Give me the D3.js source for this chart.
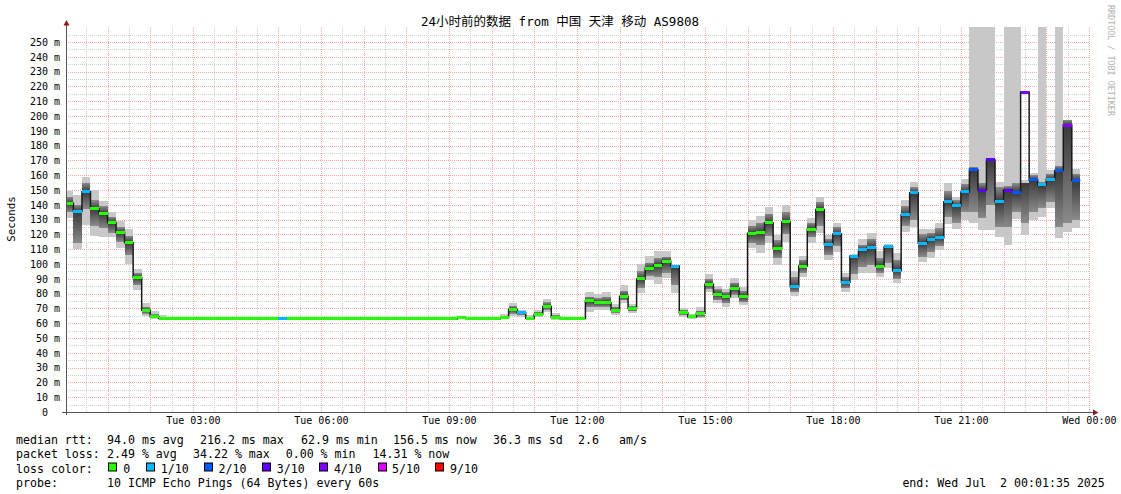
<!DOCTYPE html>
<html><head><meta charset="utf-8">
<script src="https://cdn.jsdelivr.net/npm/d3@7"></script>
<style>
body{margin:0;background:#fff;}
svg{display:block;}
text{font-family:"DejaVu Sans Mono","Noto Sans CJK SC",monospace;fill:#000;}
</style></head><body><svg id="c" width="1121" height="494"></svg>
<script>
// ---- data: 12-minute steps starting Tue 00:00, k = 0..118 ----
const median = [
141.0,135.4,148.9,137.4,134.2,127.9,121.2,114.4,90.8,68.7,
64.4,63.2,63.0,63.0,63.0,63.0,63.0,63.0,63.0,63.0,
63.0,63.0,63.0,63.0,63.0,63.2,63.0,63.0,63.0,63.0,
63.0,63.0,63.0,63.0,63.0,63.0,63.0,63.0,63.0,63.0,
63.0,63.0,63.0,63.0,62.9,62.9,63.6,63.0,62.9,63.0,
62.9,63.6,69.4,67.1,63.4,66.0,71.2,64.0,63.2,63.2,
63.2,75.2,73.9,73.9,68.9,78.2,69.9,89.9,97.1,99.3,
102.0,98.6,67.1,64.2,66.7,86.3,79.5,77.9,83.6,77.9,
120.7,121.2,127.9,110.6,128.4,84.7,98.6,123.4,136.9,113.3,
120.3,87.6,105.4,109.5,111.0,98.6,111.7,95.5,133.3,148.2,
114.0,116.8,117.8,142.1,139.2,148.7,163.7,150.0,170.3,142.1,
150.0,148.4,216.2,156.8,153.4,157.2,163.1,193.9,156.5
];
// lost pings out of 10 per step
const loss = [
0,1,1,0,0,0,0,0,0,0,
0,0,0,0,0,0,0,0,0,0,
0,0,0,0,0,1,0,0,0,0,
0,0,0,0,0,0,0,0,0,0,
0,0,0,0,0,0,0,0,0,0,
0,0,0,1,0,0,0,0,0,0,
0,0,0,0,0,0,0,0,0,0,
0,1,0,0,0,0,0,0,0,0,
0,0,0,0,0,1,0,0,0,1,
1,1,1,1,1,0,1,1,1,1,
1,1,1,1,1,1,2,3,3,1,
3,2,4,2,1,1,2,4,2
];
// smoke: fastest and slowest ping per step
const smokeLo = [
130.9,110.1,126.4,119.1,118.5,118.5,110.6,99.8,82.4,65.1,
62.8,62.0,62.6,62.6,62.6,62.6,62.6,62.6,62.6,62.6,
62.6,62.6,62.6,62.6,62.6,62.6,62.6,62.6,62.6,62.6,
62.6,62.6,62.6,62.6,62.6,62.6,62.6,62.6,62.6,62.6,
62.6,62.6,62.6,62.6,62.4,62.4,62.6,62.5,62.4,62.5,
62.3,62.6,64.9,64.4,62.2,64.0,67.8,62.2,62.6,62.6,
62.6,67.8,68.9,68.9,65.5,73.4,66.7,80.2,89.2,86.5,
90.3,80.2,64.4,62.6,63.3,81.3,73.4,71.2,76.8,72.3,
110.6,107.2,114.5,99.5,115.1,78.4,91.4,114.0,121.2,102.7,
108.3,81.3,89.2,93.7,93.7,91.4,97.1,87.0,121.8,125.0,
101.6,104.0,109.5,127.0,123.6,129.7,127.5,123.0,123.0,118.5,
112.8,130.2,119.6,129.7,132.0,137.6,117.3,121.8,124.1
];
const smokeHi = [
149.3,146.6,158.8,150.0,142.6,134.9,129.1,123.6,96.6,73.9,
68.5,65.5,63.8,63.8,63.8,63.8,63.8,63.8,63.8,63.8,
63.8,63.8,63.8,63.8,63.8,64.2,63.8,63.8,63.8,63.8,
63.8,63.8,63.8,63.8,63.8,63.8,63.8,63.8,63.8,63.8,
63.8,63.8,63.8,63.8,63.6,63.6,64.8,63.8,63.6,63.8,
63.6,66.2,73.9,68.9,65.5,68.9,76.4,66.7,63.8,63.8,
63.8,80.9,79.5,81.1,72.7,85.8,72.7,100.0,105.4,109.0,
109.0,98.6,70.5,66.2,70.7,93.0,85.1,82.9,90.3,84.7,
129.7,132.4,138.7,119.8,139.9,95.5,105.4,131.3,145.5,119.6,
127.9,93.7,106.8,116.7,121.2,108.8,113.5,107.2,143.2,155.4,
123.5,123.5,127.5,154.5,145.5,157.3,300,300,300,155.6,
300,300,157.0,161.7,300,163.3,300,197.3,164.2
];
// inner (darker) part of the smoke
const coreLo = [
135,114,137,126,124,121,115,106,86,66.5,
63.5,62.5,62.8,62.8,62.8,62.8,62.8,62.8,62.8,62.8,
62.8,62.8,62.8,62.8,62.8,62.8,62.8,62.8,62.8,62.8,
62.8,62.8,62.8,62.8,62.8,62.8,62.8,62.8,62.8,62.8,
62.8,62.8,62.8,62.8,62.6,62.6,63.0,62.8,62.6,62.8,
62.6,63.0,66.5,65.5,62.6,64.8,69,63,62.8,62.8,
62.8,71,71,71,67,75.5,68,84,92,91,
94,86,65.5,63.2,64.5,83,75.5,73.5,79,74,
114,113,119,104,120,81,94,118,126,106,
112,83.5,93,98,99,94,101,90,126,130,
105,108,112,132,128,135,135,131,140,125,
125,135,128,135,138,142,125,128,130
];
const coreHi = [
145.5,140,155,143,139,132,125,119,94,71,
66,64.2,63.4,63.4,63.4,63.4,63.4,63.4,63.4,63.4,
63.4,63.4,63.4,63.4,63.4,63.6,63.4,63.4,63.4,63.4,
63.4,63.4,63.4,63.4,63.4,63.4,63.4,63.4,63.4,63.4,
63.4,63.4,63.4,63.4,63.2,63.2,64.2,63.4,63.2,63.4,
63.2,64.8,71.5,68,64.3,67.5,74,65.3,63.4,63.4,
63.4,78,77,78,71,82,71.5,95,101,104,
105,98.6,69,65.2,68.5,90,83,81,87.5,82,
126,128,134,116,135,91,103,128,142,117,
125,91.5,105.5,113,117,104,112.5,103,139,152,
120,121,124,149,143,154,165.5,154.5,170.9,152,
152.5,154.5,155,160,155.2,161,166.2,197.3,161
];
const yTicks = [0,10,20,30,40,50,60,70,80,90,100,110,120,130,140,150,160,170,180,190,200,210,220,230,240,250];
const lossLegend = ["0","1/10","2/10","3/10","4/10","5/10","9/10"];
const lossColors = {0:"#26ff00",1:"#00b8ff",2:"#0059ff",3:"#5e00ff",4:"#7e00ff",5:"#dd00ff",9:"#ff0000"};
const lossKeys = [0,1,2,3,4,5,9];
const titleText = "24小时前的数据 from 中国 天津 移动 AS9808";

// ---- scales ----
const tStart = new Date(Date.UTC(2025,6,1,0,1,35));
const tEnd = new Date(Date.UTC(2025,6,2,0,1,35));
const day0 = Date.UTC(2025,6,1,0,0,0);
const STEP = 12*60*1000;
const x = d3.scaleUtc().domain([tStart,tEnd]).range([66,1090]);
const y = d3.scaleLinear().domain([0,260]).range([412,27.2]);
const stepStart = k => new Date(day0 + k*STEP);
const stepEnd = k => new Date(day0 + (k+1)*STEP);

const svg = d3.select("#c");
const defs = svg.append("defs");
defs.append("clipPath").attr("id","plot")
  .append("rect").attr("x",66).attr("y",27).attr("width",1024).attr("height",385);

// ---- grid ----
const grid = svg.append("g");
const hMinor = d3.range(5,256,10), hMajor = d3.range(10,251,10);
const minorCol = "#cfcfcf", majorCol = "#f5aaaa";
grid.selectAll(".hm").data(hMinor).join("line")
  .attr("x1",66).attr("x2",1090)
  .attr("y1",d=>Math.round(y(d))+0.5).attr("y2",d=>Math.round(y(d))+0.5)
  .attr("stroke",minorCol).attr("stroke-dasharray","1,1");
const vTimes = x.ticks(d3.utcMinute.every(30));
grid.selectAll(".vm").data(vTimes.filter(d=>d.getUTCMinutes()!==0)).join("line")
  .attr("x1",d=>Math.round(x(d))+0.5).attr("x2",d=>Math.round(x(d))+0.5)
  .attr("y1",27).attr("y2",412)
  .attr("stroke",minorCol).attr("stroke-dasharray","1,1");
grid.selectAll(".hM").data(hMajor).join("line")
  .attr("x1",66).attr("x2",1090)
  .attr("y1",d=>Math.round(y(d))+0.5).attr("y2",d=>Math.round(y(d))+0.5)
  .attr("stroke",majorCol).attr("stroke-dasharray","1,1");
grid.selectAll(".vM").data(vTimes.filter(d=>d.getUTCMinutes()===0)).join("line")
  .attr("x1",d=>Math.round(x(d))+0.5).attr("x2",d=>Math.round(x(d))+0.5)
  .attr("y1",27).attr("y2",412)
  .attr("stroke",majorCol).attr("stroke-dasharray","1,1");

// ---- smoke ----
const idx = d3.range(median.length);
// per-step shading: darkest at the median, lighter toward the inner band edges
idx.forEach(k=>{
  const top = y(coreHi[k]), bot = y(coreLo[k]);
  const span = Math.max(bot-top, 0.01);
  const off = Math.min(1, Math.max(0, (y(median[k])-top)/span));
  const g = defs.append("linearGradient").attr("id","sg"+k)
    .attr("gradientUnits","userSpaceOnUse").attr("x1",0).attr("x2",0).attr("y1",top).attr("y2",bot);
  g.append("stop").attr("offset",0).attr("stop-color","#8a8a8a");
  g.append("stop").attr("offset",off).attr("stop-color","#3a3a3a");
  g.append("stop").attr("offset",1).attr("stop-color","#8a8a8a");
});
const plot = svg.append("g").attr("clip-path","url(#plot)");
plot.selectAll(".so").data(idx).join("rect")
  .attr("x",k=>x(stepStart(k))).attr("width",k=>x(stepEnd(k))-x(stepStart(k)))
  .attr("y",k=>y(smokeHi[k])).attr("height",k=>y(smokeLo[k])-y(smokeHi[k]))
  .attr("fill","#c8c8c8").attr("shape-rendering","crispEdges");
plot.selectAll(".si").data(idx).join("rect")
  .attr("x",k=>x(stepStart(k))).attr("width",k=>x(stepEnd(k))-x(stepStart(k)))
  .attr("y",k=>y(coreHi[k])).attr("height",k=>y(coreLo[k])-y(coreHi[k]))
  .attr("fill",k=>"url(#sg"+k+")").attr("shape-rendering","crispEdges");

// ---- median line ----
const pts = idx.map(k=>[x(stepStart(k)),y(median[k])]);
pts.push([x(stepEnd(median.length-1)),y(median[median.length-1])]);
plot.append("path").attr("d",d3.line().curve(d3.curveStepAfter)(pts))
  .attr("fill","none").attr("stroke","#1a1a1a").attr("stroke-width",1.5);
plot.selectAll(".md").data(idx).join("rect")
  .attr("x",k=>x(stepStart(k))).attr("width",k=>x(stepEnd(k))-x(stepStart(k)))
  .attr("y",k=>y(median[k])-1.5).attr("height",3)
  .attr("fill",k=>lossColors[loss[k]]).attr("shape-rendering","crispEdges");

// ---- axes ----
const yAxis = d3.axisLeft(y).tickValues(yTicks).tickSize(0).tickPadding(6)
  .tickFormat(d=>d===0?"0":d+" m");
const gy = svg.append("g").attr("transform","translate(66,0)").call(yAxis);
gy.select(".domain").remove();
gy.selectAll("text").attr("font-family","DejaVu Sans Mono").attr("font-size",10).attr("fill","#000");
gy.selectAll(".tick").filter(d=>d===0).select("text").attr("x",-18);

const xAxis = d3.axisBottom(x).tickValues(d3.range(1,9).map(i=>new Date(day0+i*3*3600*1000)))
  .tickSize(0).tickPadding(5).tickFormat(d3.utcFormat("%a %H:%M"));
const gx = svg.append("g").attr("transform","translate(0,412)").call(xAxis);
gx.select(".domain").remove();
gx.selectAll("text").attr("font-family","DejaVu Sans Mono").attr("font-size",10).attr("fill","#000");

// axis lines + arrows
svg.append("line").attr("x1",66.5).attr("x2",66.5).attr("y1",415).attr("y2",24).attr("stroke","#555");
svg.append("line").attr("x1",62).attr("x2",1094).attr("y1",412.5).attr("y2",412.5).attr("stroke","#555");
svg.append("path").attr("d","M63.5,25.5 L66.5,20 L69.5,25.5 Z").attr("fill","#8b1a1a");
svg.append("path").attr("d","M1093,409.5 L1098.5,412.5 L1093,415.5 Z").attr("fill","#8b1a1a");

// ---- texts ----
svg.append("text").attr("x",560).attr("y",25.5).attr("text-anchor","middle")
  .attr("font-size",12.5).text(titleText);
svg.append("text").attr("transform","translate(14.5,219) rotate(-90)").attr("text-anchor","middle")
  .attr("font-size",10.8).text("Seconds");
svg.append("text").attr("transform","translate(1108,5) rotate(90)")
  .attr("font-size",8.4).style("fill","#b0b0b0").text("RRDTOOL / TOBI OETIKER");

const legend = svg.append("g").attr("font-size",11.6);
const L1 = 443.5, L2 = 458, L3 = 472.5, L4 = 487;
const segs = [
  [16,L1,"median rtt:"],[107,L1,"94.0 ms avg"],[200,L1,"216.2 ms max"],[301,L1,"62.9 ms min"],
  [393,L1,"156.5 ms now"],[493,L1,"36.3 ms sd"],[578,L1,"2.6"],[619,L1,"am/s"],
  [16,L2,"packet loss:"],[107,L2,"2.49 % avg"],[193,L2,"34.22 % max"],[285.7,L2,"0.00 % min"],[372.5,L2,"14.31 % now"],
  [16,L3,"loss color:"],
  [16,L4,"probe:"],[107,L4,"10 ICMP Echo Pings (64 Bytes) every 60s"],
  [902.4,L4,"end: Wed Jul  2 00:01:35 2025"]
];
legend.selectAll("text").data(segs).join("text")
  .attr("x",d=>d[0]).attr("y",d=>d[1]).attr("xml:space","preserve").style("white-space","pre").text(d=>d[2]);
const boxX = [108.2,145.7,203.6,261.8,318.9,377.5,435];
const labX = [123.2,160.7,218.6,276.8,333.9,392.1,450];
lossKeys.forEach((key,i)=>{
  legend.append("rect").attr("x",Math.round(boxX[i])+0.5).attr("y",L3-9.5).attr("width",8).attr("height",8)
    .attr("fill",lossColors[key]).attr("stroke","#000").attr("stroke-width",1);
  legend.append("text").attr("x",labX[i]).attr("y",L3).text(lossLegend[i]);
});
</script></body></html>
